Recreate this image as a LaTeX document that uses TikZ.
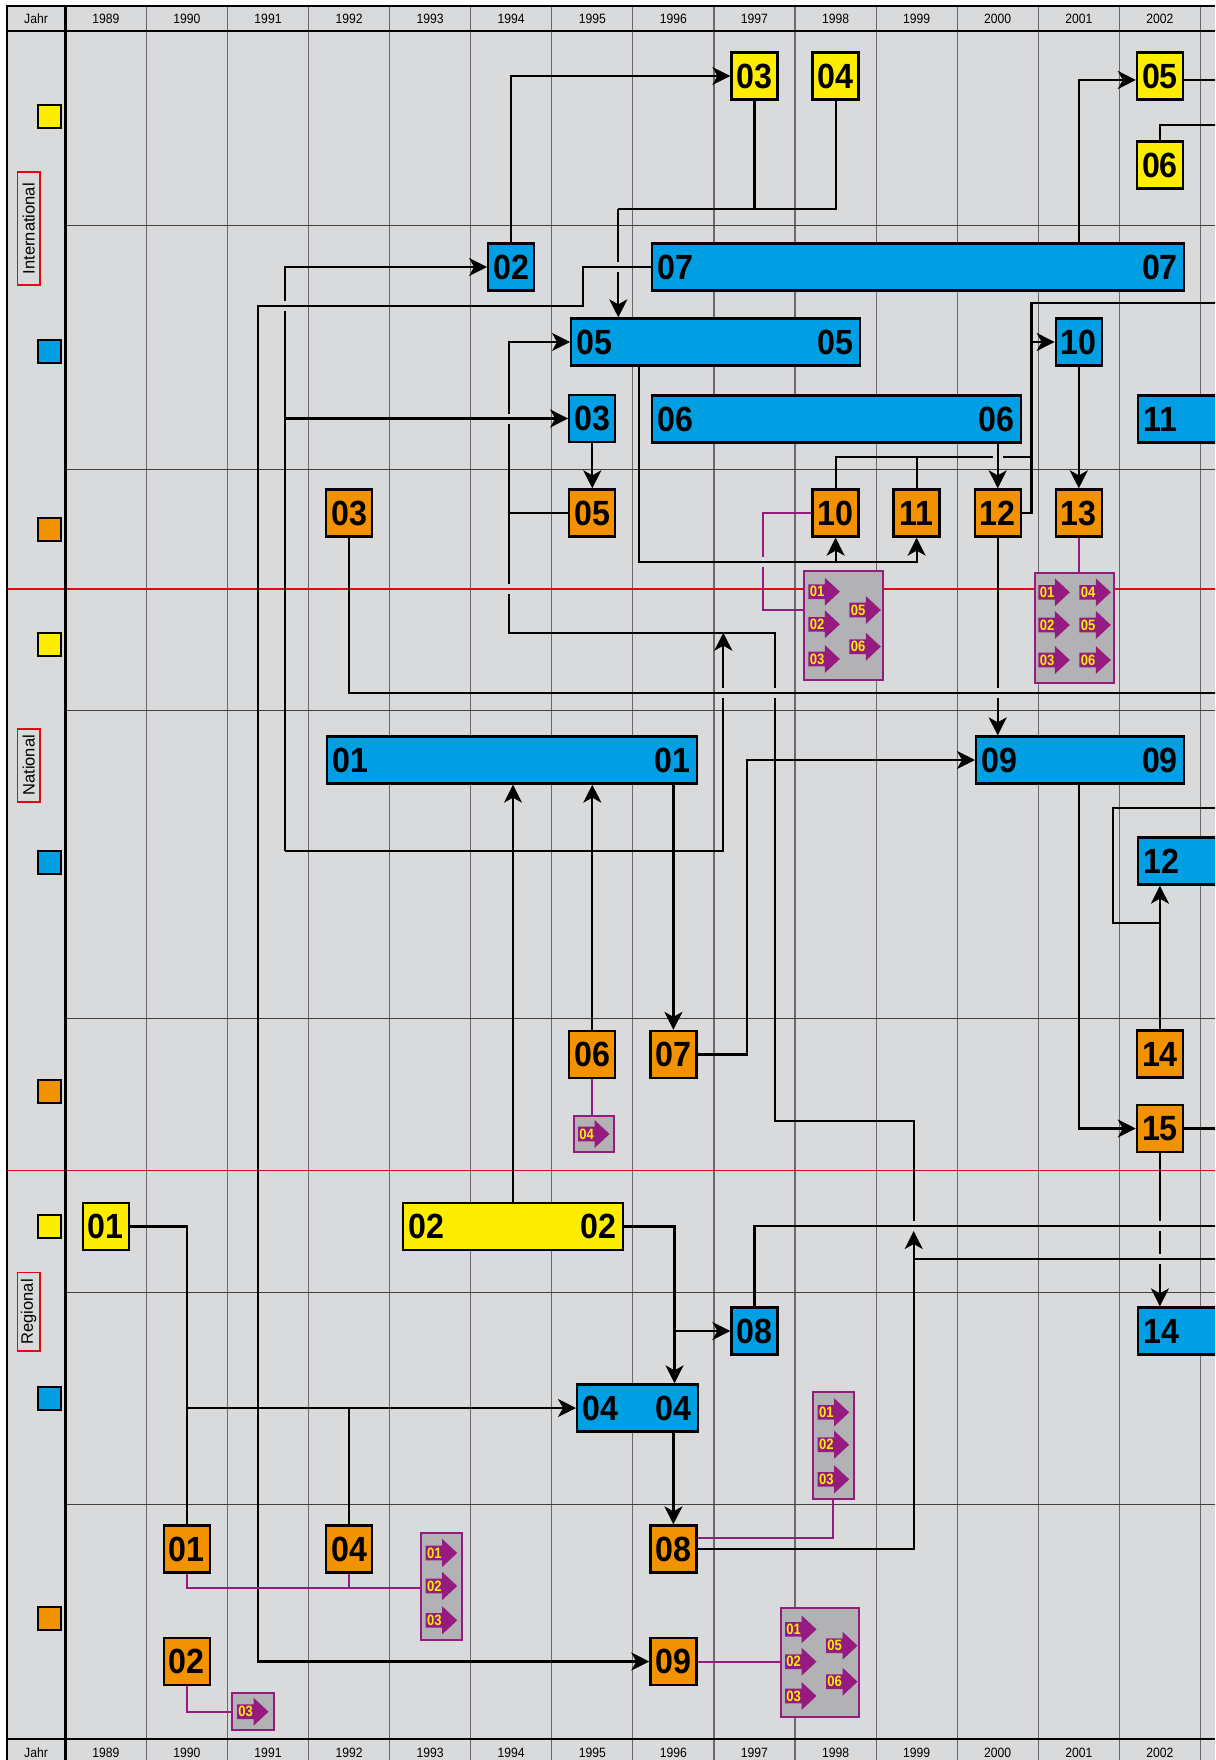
\documentclass[tikz,border=0pt]{standalone}
\usepackage{fontspec}
\setmainfont{Liberation Sans}
\newfontfamily\boxfont{Liberation Sans Bold}[FakeStretch=0.92]
\newfontfamily\smallbold{Liberation Sans Bold}[FakeStretch=0.87]
\newfontfamily\hdrfont{Liberation Sans}[FakeStretch=0.9]
\usetikzlibrary{arrows.meta,calc}
\definecolor{bgc}{RGB}{217,218,220}
\definecolor{yel}{RGB}{255,237,0}
\definecolor{blu}{RGB}{0,159,227}
\definecolor{ora}{RGB}{243,146,0}
\definecolor{pur}{RGB}{149,27,129}
\definecolor{grp}{RGB}{178,178,180}
\definecolor{redl}{RGB}{227,6,19}
\definecolor{gridc}{RGB}{105,105,108}
\tikzset{
  box/.style={draw=black, line width=2.3pt, minimum width=46pt, minimum height=47pt, inner sep=0pt, font=\fontsize{35}{35}\selectfont\boxfont},
  ybox/.style={box, fill=yel}, bbox/.style={box, fill=blu}, obox/.style={box, fill=ora},
  barlbl/.style={inner sep=0pt, font=\fontsize{35}{35}\selectfont\boxfont},
  conn/.style={line width=2.2pt, draw=black},
  arr/.style={conn, -{Stealth[length=18pt,width=18pt,inset=5pt]}},
  purl/.style={line width=2pt, draw=pur},
  grpbox/.style={draw=pur, line width=2pt, fill=grp, inner sep=0pt},
  legsq/.style={draw=black, line width=2pt, minimum size=23pt, inner sep=0pt},
  lvl/.style={draw=redl, line width=1.9pt, rotate=90, inner sep=0pt, minimum height=22.5pt, font=\fontsize{16.5}{16.5}\selectfont},
  hdr/.style={font=\fontsize{13.5}{13.5}\selectfont\hdrfont, inner sep=0pt},
  plbl/.style={font=\fontsize{15}{15}\selectfont\smallbold, text=yel, inner sep=0pt},
  gridl/.style={draw=gridc, line width=1.1pt},
  subl/.style={draw=black!75, line width=0.9pt},
  redline/.style={draw=redl, line width=1.8pt},
  thick frame/.style={draw=black, line width=2.5pt},
}
\newcommand\mkbar[7]{%
  \node[box, fill=#5, minimum width={#3-#2-2.3}] (#1) at ({(#2+#3)/2},#4) {};
  \node[barlbl, anchor=west] (#1l) at ([xshift=6pt]#1.west) {#6};
  \node[barlbl, anchor=east] (#1r) at ([xshift=-7pt]#1.east) {#7};}
\newcommand\mkbarL[6]{%
  \node[box, fill=#5, minimum width={#3-#2-2.3}] (#1) at ({(#2+#3)/2},#4) {};
  \node[barlbl, anchor=west] (#1l) at ([xshift=6pt]#1.west) {#6};}
\newcommand\mkgrp[5]{%
  \node[grpbox, minimum width={#4-#2-2}, minimum height={#5-#3-2}] (#1) at ({(#2+#4)/2},{(#3+#5)/2}) {};}
\newcommand\parw[5]{%
  \fill[pur] (#3,#4-7.3) -- (#3+16.5,#4-7.3) -- (#3+16.5,#4-14) -- (#3+31.5,#4) -- (#3+16.5,#4+14) -- (#3+16.5,#4+7.3) -- (#3,#4+7.3) -- cycle;
  \node[plbl] (#1#2) at (#3+8.7,#4) {#5};}
\newcommand\gapv[2]{%
  \fill[bgc] (#1-3.5,#2-5) rectangle (#1+3.5,#2+5);
  \draw[conn] (#1-4.5,#2) -- (#1+4.5,#2);}
\newcommand\gaph[2]{%
  \fill[bgc] (#1-5,#2-3.5) rectangle (#1+5,#2+3.5);
  \draw[conn] (#1,#2-4.5) -- (#1,#2+4.5);}
\begin{document}
\begin{tikzpicture}[x=1pt,y=-1pt]
\clip (0,0) rectangle (1215,1760);
\fill[white] (0,0) rectangle (1215,1760);
\fill[bgc] (7,6) rectangle (1215,1760);
% grid
\foreach \i in {1,...,14} \draw[gridl] ({65.3+81.08*\i},6) -- ({65.3+81.08*\i},1760);
\foreach \yy in {225,469,710,1018.5,1292.7,1504} \draw[subl] (65.3,\yy) -- (1215,\yy);
\foreach \yy in {589,1170.5} \draw[redline] (7,\yy) -- (1215,\yy);
\draw[thick frame] (7,1760) -- (7,6) -- (1215,6);
\draw[thick frame] (65.3,6) -- (65.3,1760);
\draw[thick frame] (7,31) -- (1215,31);
\draw[thick frame] (7,1739) -- (1215,1739);
% header
\node[hdr] (hJ) at (36,18.5) {Jahr};
\node[hdr] (fJ) at (36,1753) {Jahr};
\foreach \i in {1989,...,2002} {
  \node[hdr] (h\i) at ({105.84+81.08*(\i-1989)},18.5) {\i};
  \node[hdr] (f\i) at ({105.84+81.08*(\i-1989)},1753) {\i};
}
% legend
\node[legsq, fill=yel] (LY1) at (49.7,116.5) {};
\node[legsq, fill=blu] (LB1) at (49.7,351.5) {};
\node[legsq, fill=ora] (LO1) at (49.7,529.5) {};
\node[legsq, fill=yel] (LY2) at (49.7,644.5) {};
\node[legsq, fill=blu] (LB2) at (49.7,862) {};
\node[legsq, fill=ora] (LO2) at (49.7,1091.5) {};
\node[legsq, fill=yel] (LY3) at (49.7,1226.5) {};
\node[legsq, fill=blu] (LB3) at (49.7,1398) {};
\node[legsq, fill=ora] (LO3) at (49.7,1618) {};
\node[lvl, minimum width=112.5pt] (LInt) at (28.7,228.7) {International};
\node[lvl, minimum width=73.5pt] (LNat) at (28.7,765.3) {National};
\node[lvl, minimum width=78.5pt] (LReg) at (28.7,1311.7) {Regional};
% ---------- International
\node[ybox] (Y03) at (754.5,76) {03};
\node[ybox] (Y04) at (835.6,76) {04};
\node[ybox] (Y05) at (1159.9,76) {05};
\node[ybox] (Y06) at (1159.9,165) {06};
\node[bbox] (B02) at (511.2,267) {02};
\mkbar{B07}{651}{1185}{267}{blu}{07}{07}
\mkbar{B05}{570}{861}{342}{blu}{05}{05}
\node[bbox] (B03) at (592.3,418.5) {03};
\mkbar{B06}{651}{1022}{419}{blu}{06}{06}
\node[bbox] (B10) at (1078.8,342) {10};
\mkbarL{B11}{1137}{1250}{419}{blu}{11}
\node[obox] (O03) at (349.1,513) {03};
\node[obox] (O05) at (592.3,513) {05};
\node[obox] (O10) at (835.6,513) {10};
\node[obox] (O11) at (916.6,513) {11};
\node[obox] (O12) at (997.7,513) {12};
\node[obox] (O13) at (1078.8,513) {13};
% ---------- National
\mkbar{B01}{326}{698}{760}{blu}{01}{01}
\mkbar{B09}{975}{1185}{760}{blu}{09}{09}
\mkbarL{B12}{1137}{1250}{861}{blu}{12}
\node[obox] (O06) at (592.3,1054.5) {06};
\node[obox] (O07) at (673.4,1054.5) {07};
\node[obox] (O14) at (1159.9,1054) {14};
\node[obox] (O15) at (1159.9,1128.5) {15};
% ---------- Regional
\node[ybox] (Y01) at (105.8,1226.5) {01};
\mkbar{Y02}{402}{624}{1226.5}{yel}{02}{02}
\node[bbox] (B08) at (754.5,1331) {08};
\mkbar{B04}{576}{699}{1408}{blu}{04}{04}
\mkbarL{B14}{1137}{1250}{1331}{blu}{14}
\node[obox] (O01) at (186.9,1549) {01};
\node[obox] (O04) at (349.1,1549) {04};
\node[obox] (O08) at (673.4,1549) {08};
\node[obox] (O02) at (186.9,1661.5) {02};
\node[obox] (O09) at (673.4,1661.5) {09};
% ---------- groups
\mkgrp{G1}{802.7}{569.7}{883.7}{681}
\mkgrp{G2}{1034}{571.7}{1115.3}{684.3}
\mkgrp{G3}{420}{1532}{463}{1641}
\mkgrp{G4}{231.3}{1692}{275.3}{1731.3}
\mkgrp{G5}{572.7}{1115}{615.4}{1153.3}
\mkgrp{G6}{812}{1390.7}{855}{1500}
\mkgrp{G7}{780}{1607}{860.3}{1718.3}
\parw{G1}{a}{808.3}{591.7}{01}
\parw{G1}{b}{808.3}{624.3}{02}
\parw{G1}{c}{808.3}{659}{03}
\parw{G1}{d}{849.3}{610}{05}
\parw{G1}{e}{849.3}{646.7}{06}
\parw{G2}{a}{1038.3}{592.3}{01}
\parw{G2}{b}{1038.3}{625}{02}
\parw{G2}{c}{1038.3}{660}{03}
\parw{G2}{d}{1079.3}{592.3}{04}
\parw{G2}{e}{1079.3}{625}{05}
\parw{G2}{f}{1079.3}{660}{06}
\parw{G3}{a}{425.7}{1553}{01}
\parw{G3}{b}{425.7}{1586}{02}
\parw{G3}{c}{425.7}{1620.3}{03}
\parw{G4}{a}{237}{1711.7}{03}
\parw{G5}{a}{578}{1134}{04}
\parw{G6}{a}{817.7}{1412.3}{01}
\parw{G6}{b}{817.7}{1444.7}{02}
\parw{G6}{c}{817.7}{1479.3}{03}
\parw{G7}{a}{785}{1629.3}{01}
\parw{G7}{b}{785}{1661.7}{02}
\parw{G7}{c}{785}{1696}{03}
\parw{G7}{d}{826}{1645.7}{05}
\parw{G7}{e}{826}{1681.7}{06}
% ---------- coordinates
\coordinate (a1) at (1078.8,80);
\coordinate (a2) at (1240,80);
\coordinate (b1) at (1159.9,125.3);
\coordinate (b2) at (1240,125.3);
\coordinate (j34) at (618.3,209.3);
\coordinate (k1) at (583.3,267);
\coordinate (k2) at (583.3,306);
\coordinate (k3) at (257.7,306);
\coordinate (m1) at (285,267);
\coordinate (m2) at (285,851);
\coordinate (m3) at (285,418.5);
\coordinate (m4) at (723.3,851);
\coordinate (m5) at (723.3,632.7);
\coordinate (n1) at (509.3,342);
\coordinate (n2) at (509.3,632.7);
\coordinate (n3) at (775,632.7);
\coordinate (n4) at (775,1120.6);
\coordinate (n5) at (913.7,1120.6);
\coordinate (n6) at (913.7,1221);
\coordinate (p1) at (639.2,561.7);
\coordinate (q1) at (1240,302.7);
\coordinate (q2) at (1031.4,302.7);
\coordinate (q3) at (1031.4,456.7);
\coordinate (r1) at (1240,693);
\coordinate (s1) at (746.7,760);
\coordinate (t1) at (1078.8,1128.5);
\coordinate (u1) at (1240,808.3);
\coordinate (u2) at (1113.3,808.3);
\coordinate (u3) at (1113.3,923.3);
\coordinate (v1) at (186.9,1408);
\coordinate (w1) at (674.5,1226.5);
\coordinate (x1) at (1240,1226);
\coordinate (y1) at (913.7,1549);
\coordinate (y2) at (913.7,1231);
\coordinate (y3) at (913.7,1259);
\coordinate (y4) at (1240,1259);
\coordinate (z1) at (186.9,1587.7);
\coordinate (g6a) at (833.3,1538.3);
\coordinate (h1) at (763,513);
\coordinate (h2) at (763,609.7);
% ---------- connectors
\draw[arr] (B02.north) |- (Y03.west);
\draw[conn] (Y03.south) -- (Y03.south |- j34);
\draw[conn] (Y04.south) |- (j34);
\draw[arr] (j34) -- (j34 |- B05.north);
\draw[arr] (B07.north -| a1) -- (a1) -- (a1 -| Y05.west);
\draw[conn] (a1 -| Y05.east) -- (a2);
\draw[conn] (Y06.north) -- (b1) -- (b2);
\draw[arr] (B07.west) -- (k1) -- (k2) -- (k3) |- (O09.west);
\draw[arr] (m2) -- (m1) -- (B02.west);
\draw[arr] (m3) -- (B03.west);
\draw[arr] (m2) -- (m4) -- (m5);
\draw[arr] (n6) -- (n5) -- (n4) -- (n3) -- (n2) -- (n1) -- (B05.west);
\draw[conn] (O05.west) -- (O05.west -| n1);
\draw[arr] (B03.south) -- (O05.north);
\draw[arr] (B05.south -| p1) -- (p1) -| (O11.south);
\draw[arr] (O10.south |- p1) -- (O10.south);
\draw[arr] (B06.south -| O12.north) -- (O12.north);
\draw[conn] (q1) -- (q2) |- (O12.east);
\draw[arr] (q2 |- B10.west) -- (B10.west);
\draw[conn] (q3) -| (O10.north);
\draw[conn] (O11.north |- q3) -- (O11.north);
\draw[arr] (B10.south) -- (O13.north);
\draw[arr] (O12.south) -- (O12.south |- B09.north);
\draw[conn] (O03.south) |- (r1);
\draw[arr] (Y02.north) -- (Y02.north |- B01.south);
\draw[arr] (O06.north) -- (O06.north |- B01.south);
\draw[arr] (B01.south -| O07.north) -- (O07.north);
\draw[arr] (O07.east) -| (s1) -- (B09.west);
\draw[arr] (B09.south -| t1) -- (t1) -- (O15.west);
\draw[arr] (O14.north) -- (O14.north |- B12.south);
\draw[conn] (u1) -- (u2) -- (u3) -- (u3 -| O14.north);
\draw[conn] (O15.east) -- (O15.east -| u1);
\draw[arr] (O15.south) -- (O15.south |- B14.north);
\draw[conn] (Y01.east) -| (O01.north);
\draw[arr] (v1) -- (B04.west);
\draw[conn] (O04.north) -- (O04.north |- v1);
\draw[arr] (Y02.east) -- (w1) -- (w1 |- B04.north);
\draw[arr] (w1 |- B08.west) -- (B08.west);
\draw[arr] (B04.south -| O08.north) -- (O08.north);
\draw[conn] (B08.north) |- (x1);
\draw[arr] (O08.east) -- (y1) -- (y2);
\draw[conn] (y3) -- (y4);
% purple links
\draw[purl] (O13.south) -- (O13.south |- G2.north);
\draw[purl] (O10.west) -- (h1) -- (h2) -- (h2 -| G1.west);
\draw[purl] (O01.south) -- (z1) -- (z1 -| G3.west);
\draw[purl] (O04.south) -- (O04.south |- z1);
\draw[purl] (O02.south) |- (G4.west);
\draw[purl] (O06.south) -- (O06.south |- G5.north);
\draw[purl] (O08.east |- g6a) -- (g6a) -- (g6a |- G6.south);
\draw[purl] (O09.east) -- (O09.east -| G7.west);
% crossing gaps
\gapv{285}{306}
\gapv{618.3}{267}
\gapv{509.3}{418.5}
\gapv{763}{561.7}
\gapv{723.3}{693}
\gapv{775}{693}
\gapv{997.7}{693}
\gaph{997.7}{456.7}
\gapv{1159.9}{1226}
\gapv{1159.9}{1259}
\fill[bgc] (505.8,584) rectangle (512.8,594);
\draw[redline] (504.8,589) -- (513.8,589);
\end{tikzpicture}
\end{document}
